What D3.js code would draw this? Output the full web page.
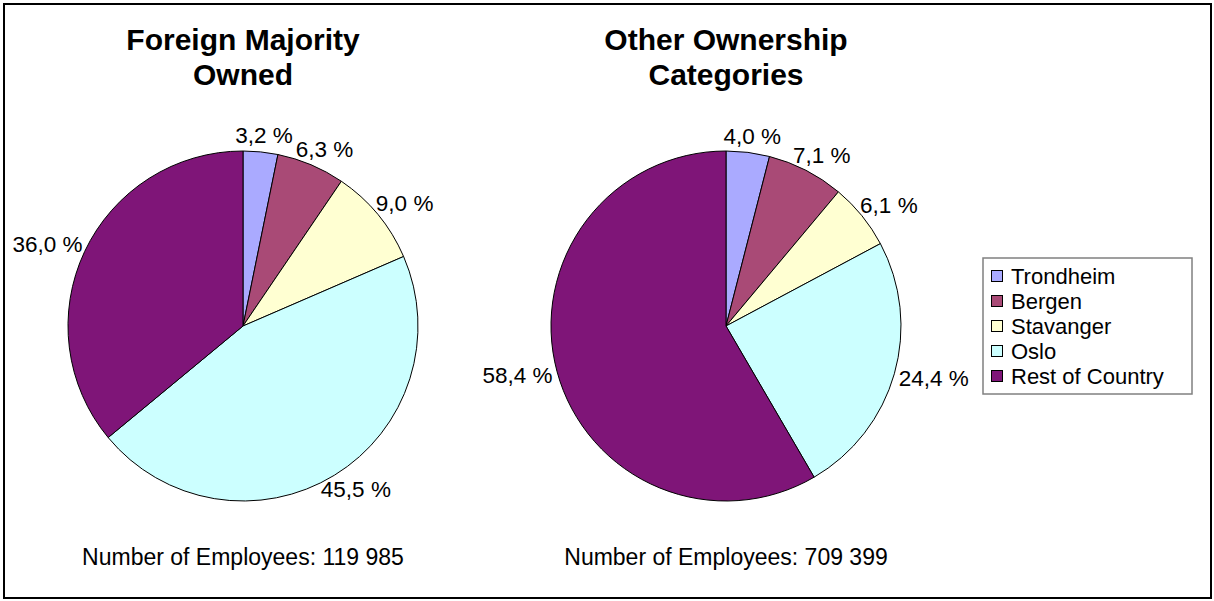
<!DOCTYPE html>
<html>
<head>
<meta charset="utf-8">
<script src="https://cdn.jsdelivr.net/npm/d3@7"></script>
<style>
  html, body { margin: 0; padding: 0; background: #fff; }
  svg { display: block; font-family: "Liberation Sans", Arial, sans-serif; }
</style>
</head>
<body>
<svg id="chart" width="1214" height="601"></svg>
<script>
const categories = ["Trondheim", "Bergen", "Stavanger", "Oslo", "Rest of Country"];
const foreignValues = [3.2, 6.3, 9.0, 45.5, 36.0];
const otherValues = [4.0, 7.1, 6.1, 24.4, 58.4];
const chartTitles = [["Foreign Majority", "Owned"], ["Other Ownership", "Categories"]];
const employeeCounts = ["119 985", "709 399"];
const colors = ["#aaaaff", "#a94a76", "#ffffd2", "#ccffff", "#7f1578"];

const svg = d3.select("#chart");

svg.append("rect").attr("x", 4).attr("y", 4).attr("width", 1207).attr("height", 594)
  .attr("fill", "#fff").attr("stroke", "#000").attr("stroke-width", 2);

const color = d3.scaleOrdinal().domain(categories).range(colors);
const pie = d3.pie().sort(null).value(d => d.v).startAngle(0).endAngle(2 * Math.PI);
const R = 175;
const arc = d3.arc().innerRadius(0).outerRadius(R);
const fmt = v => d3.format(".1f")(v).replace(".", ",") + " %";

const centers = [243, 726];
const cy = 326;
const series = [foreignValues, otherValues];

series.forEach((vals, i) => {
  const cx = centers[i];
  const data = categories.map((c, k) => ({ c, v: vals[k] }));
  const arcs = pie(data);

  const tg = svg.append("g");
  chartTitles[i].forEach((t, j) => {
    tg.append("text").attr("x", cx).attr("y", 50 + j * 35)
      .attr("text-anchor", "middle").attr("font-size", 30).attr("font-weight", "bold")
      .attr("fill", "#000").text(t);
  });

  const g = svg.append("g").attr("transform", `translate(${cx},${cy})`);
  g.selectAll("path").data(arcs).join("path")
    .attr("d", arc).attr("fill", d => color(d.data.c))
    .attr("stroke", "#000").attr("stroke-width", 1);

  const labels = g.selectAll("text.lbl").data(arcs).join("text")
    .attr("class", "lbl").attr("font-size", 22.5).attr("fill", "#000")
    .attr("text-anchor", "middle").attr("dominant-baseline", "central")
    .text(d => fmt(d.data.v));
  labels.each(function(d) {
    const bb = this.getBBox();
    const a = (d.startAngle + d.endAngle) / 2;
    const s = Math.sin(a), c = -Math.cos(a);
    const pad = 6;
    const x = (R + pad) * s + (bb.width / 2) * s;
    const y = (R + pad) * c + (bb.height / 2 - 2) * c;
    d3.select(this).attr("x", x).attr("y", y);
  });

  svg.append("text").attr("x", cx).attr("y", 565).attr("text-anchor", "middle")
    .attr("font-size", 23).attr("fill", "#000")
    .text("Number of Employees: " + employeeCounts[i]);
});

// Legend
const lg = svg.append("g");
lg.append("rect").attr("x", 983).attr("y", 258).attr("width", 209).attr("height", 136)
  .attr("fill", "#fff").attr("stroke", "#808080").attr("stroke-width", 1.5);
const ly = d3.scalePoint().domain(categories).range([276.5, 376.5]);
categories.forEach(c => {
  lg.append("rect").attr("x", 991.5).attr("y", ly(c) - 6).attr("width", 11).attr("height", 11)
    .attr("fill", color(c)).attr("stroke", "#000").attr("stroke-width", 1);
  lg.append("text").attr("x", 1011).attr("y", ly(c) + 7.5).attr("font-size", 22)
    .attr("fill", "#000").text(c);
});
</script>
</body>
</html>
